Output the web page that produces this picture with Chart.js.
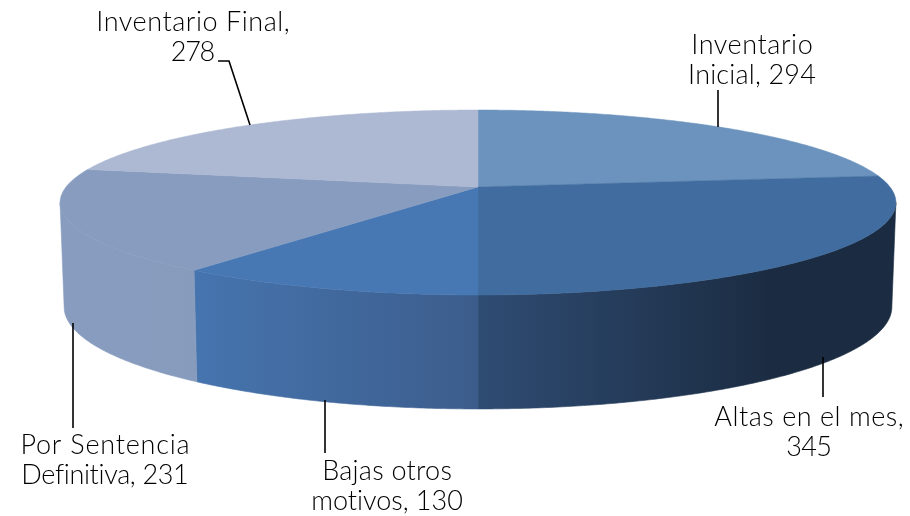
<!DOCTYPE html>
<html><head><meta charset="utf-8">
<style>html,body{margin:0;padding:0;background:#fff}canvas{display:block}</style>
<script src="https://cdn.jsdelivr.net/npm/chart.js@4"></script>
</head><body><canvas id="c" width="910" height="516"></canvas>
<script>
const categories = ["Inventario Inicial","Altas en el mes","Bajas otros motivos","Por Sentencia Definitiva","Inventario Final"];
const values = [294,345,130,231,278];
const labelLines = [["Inventario","Inicial, 294"],["Altas en el mes,","345"],["Bajas otros","motivos, 130"],["Por Sentencia","Definitiva, 231"],["Inventario Final,","278"]];

const topColors = ["#6b93bd","#406c9f","#4878b4","#879cbf","#adb9d2"];
const wallStops = [null,["#2f4c73","#1b2c42",478,770],["#4674ae","#3c5d8c",197,478],["#879cbf","#879cbd",60,196],null];
const labelPos = [[752,54,84],[809,426,456],[387,480,510],[105,454,484],[193,31,61]];
const labelWidths = [[122,128],[190,45],[130,152],[170,167],[194,43]];
const leaders = [[[718,90],[718,127]],[[823,357],[823,397]],[[325,400],[325,453]],[[73,323],[73,428]],[[218,61],[229,61],[250,125]]];

const K = 0.1676, CX = 478;
const upper = {cy:187, A:89.9, B:412};
const lower = {cy:289.9, A:99.1, B:408};
const project = (f,t) => { const u=Math.sin(t), v=-Math.cos(t), w=1-K*v; return [CX+f.B*u/w, f.cy+f.A*v/w]; };
const STEP = Math.PI/360;
const trace = (ctx,f,a,b) => { const n=Math.max(2,Math.ceil(Math.abs(b-a)/STEP));
  for(let i=0;i<=n;i++){const p=project(f,a+(b-a)*i/n);ctx.lineTo(p[0],p[1]);} };
const T_R = Math.acos(-K), T_L = 2*Math.PI-T_R;

const pie3d = {
  id:'pie3d',
  beforeDatasetsDraw(chart){
    const ctx=chart.ctx, arcs=chart.getDatasetMeta(0).data;
    const ang=arcs.map(e=>[e.startAngle+Math.PI/2,e.endAngle+Math.PI/2]);
    ctx.save();
    arcs.forEach((e,i)=>{
      const a=Math.max(ang[i][0],T_R), b=Math.min(ang[i][1],T_L);
      if(b<=a||!wallStops[i])return;
      const s=wallStops[i], g=ctx.createLinearGradient(s[2],0,s[3],0);
      g.addColorStop(0,s[0]);g.addColorStop(1,s[1]);
      ctx.beginPath();trace(ctx,upper,a,b);trace(ctx,lower,b,a);ctx.closePath();
      ctx.fillStyle=g;ctx.strokeStyle=g;ctx.lineWidth=0.6;ctx.fill();ctx.stroke();
    });
    arcs.forEach((e,i)=>{
      ctx.beginPath();ctx.moveTo(CX,upper.cy);trace(ctx,upper,ang[i][0],ang[i][1]);ctx.closePath();
      ctx.fillStyle=topColors[i];ctx.strokeStyle=topColors[i];ctx.lineWidth=0.5;ctx.fill();ctx.stroke();
    });
    ctx.restore();
    return false;
  },
  afterDraw(chart){
    const ctx=chart.ctx;
    ctx.save();
    ctx.strokeStyle="#000";ctx.lineWidth=1.6;
    leaders.forEach(l=>{ctx.beginPath();l.forEach((p,i)=>i?ctx.lineTo(p[0],p[1]):ctx.moveTo(p[0],p[1]));ctx.stroke();});
    ctx.fillStyle="#000";ctx.font='300 27px "Lato"';ctx.textAlign="center";ctx.textBaseline="alphabetic";
    labelLines.forEach((ls,i)=>{const p=labelPos[i];ls.forEach((t,j)=>{
      ctx.letterSpacing="0px";
      const sp=(labelWidths[i][j]-ctx.measureText(t).width)/t.length;
      ctx.letterSpacing=sp.toFixed(2)+"px";
      ctx.fillText(t,p[0]+sp/2,p[j+1]);
    });});
    ctx.restore();
  }
};
new Chart(document.getElementById('c'),{
  type:'pie',
  data:{labels:categories,datasets:[{data:values,backgroundColor:topColors,borderWidth:0}]},
  options:{responsive:false,animation:false,
    plugins:{legend:{display:false},tooltip:{enabled:false}}},
  plugins:[pie3d]
});
</script></body></html>
